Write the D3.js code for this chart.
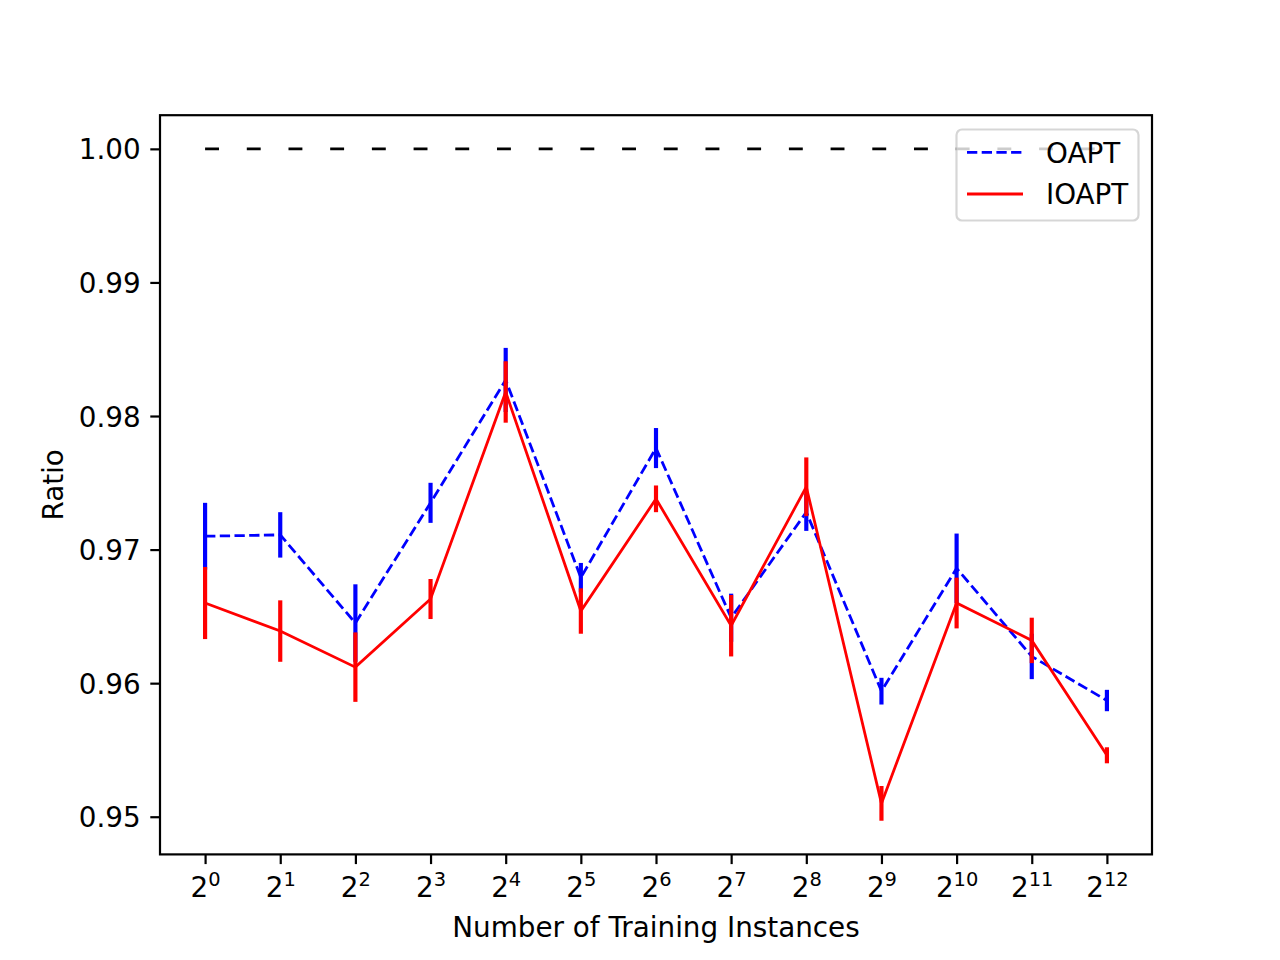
<!DOCTYPE html>
<html>
<head>
<meta charset="utf-8">
<script src="https://cdn.jsdelivr.net/npm/d3@7"></script>
<style>
  body { margin: 0; background: #fff; }
  svg { display: block; }
  text { font-family: "DejaVu Sans", sans-serif; fill: #000; }
</style>
</head>
<body>
<svg id="chart" width="1280" height="960"></svg>
<script>

// exponents of 2 on the x axis
const exponents = [0, 1, 2, 3, 4, 5, 6, 7, 8, 9, 10, 11, 12];

const oaptMean = [0.9710, 0.9711, 0.9645, 0.9735, 0.9827, 0.9679, 0.9776, 0.9649, 0.9728, 0.9594, 0.9686, 0.9620, 0.9587];
const oaptErr  = [0.0025, 0.0017, 0.0029, 0.0015, 0.0024, 0.0011, 0.0015, 0.0018, 0.0014, 0.0010, 0.0026, 0.0017, 0.0008];

const ioaptMean = [0.9660, 0.9639, 0.9612, 0.9663, 0.9818, 0.9654, 0.9738, 0.9643, 0.9747, 0.9510, 0.9660, 0.9632, 0.9546];
const ioaptErr  = [0.0027, 0.0023, 0.0026, 0.0015, 0.0023, 0.0017, 0.0010, 0.0023, 0.0022, 0.0013, 0.0019, 0.0017, 0.0006];

const baselineValue = 1.0;

const yTicks = [0.95, 0.96, 0.97, 0.98, 0.99, 1.00];

const seriesNames = ["OAPT", "IOAPT"];


const svg = d3.select("#chart");

const margin = { left: 160, right: 1152, top: 115.2, bottom: 854.4 };
const fontSize = 27.8;
const tickLen = 9.7;

const x = d3.scaleLinear().domain([-0.6, 12.6]).range([margin.left, margin.right]);
const y = d3.scaleLinear().domain([0.94718, 1.00252]).range([margin.bottom, margin.top]);

const line = d3.line()
    .x((d, i) => x(exponents[i]))
    .y(d => y(d));

// reference line at 1.0
svg.append("line")
    .attr("x1", x(exponents[0]))
    .attr("x2", x(exponents[exponents.length - 1]))
    .attr("y1", y(baselineValue))
    .attr("y2", y(baselineValue))
    .attr("stroke", "black")
    .attr("stroke-width", 2.78)
    .attr("stroke-dasharray", "13.9,27.8");

function drawSeries(means, errs, color, dash) {
    const g = svg.append("g");

    g.append("path")
        .datum(means)
        .attr("d", line)
        .attr("fill", "none")
        .attr("stroke", color)
        .attr("stroke-width", 2.78)
        .attr("stroke-dasharray", dash);

    g.selectAll("line.err")
        .data(means)
        .enter()
        .append("line")
        .attr("class", "err")
        .attr("x1", (d, i) => x(exponents[i]))
        .attr("x2", (d, i) => x(exponents[i]))
        .attr("y1", (d, i) => y(d - errs[i]))
        .attr("y2", (d, i) => y(d + errs[i]))
        .attr("stroke", color)
        .attr("stroke-width", 4.17);
}

drawSeries(oaptMean, oaptErr, "#0000ff", "10.3,4.4");
drawSeries(ioaptMean, ioaptErr, "#ff0000", null);

// frame
svg.append("rect")
    .attr("x", margin.left)
    .attr("y", margin.top)
    .attr("width", margin.right - margin.left)
    .attr("height", margin.bottom - margin.top)
    .attr("fill", "none")
    .attr("stroke", "black")
    .attr("stroke-width", 2.2);

// x axis
const xAxis = svg.append("g")
    .attr("transform", `translate(0,${margin.bottom})`)
    .call(d3.axisBottom(x).tickValues(exponents).tickSize(tickLen).tickSizeOuter(0));

xAxis.select(".domain").remove();
xAxis.selectAll(".tick line").attr("stroke-width", 2.2);
xAxis.selectAll(".tick text")
    .attr("y", 42.6)
    .attr("dy", null)
    .attr("font-size", fontSize)
    .attr("font-family", "DejaVu Sans")
    .text(null)
    .each(function (d) {
        const t = d3.select(this);
        t.append("tspan").text("2");
        t.append("tspan")
            .attr("dy", -11)
            .attr("font-size", fontSize * 0.7)
            .text(d);
    });

// y axis
const yAxis = svg.append("g")
    .attr("transform", `translate(${margin.left},0)`)
    .call(d3.axisLeft(y).tickValues(yTicks).tickFormat(d3.format(".2f")).tickSize(tickLen).tickPadding(9.7).tickSizeOuter(0));

yAxis.select(".domain").remove();
yAxis.selectAll(".tick line").attr("stroke-width", 2.2);
yAxis.selectAll(".tick text")
    .attr("font-size", fontSize)
    .attr("font-family", "DejaVu Sans")
    .attr("dy", "0.36em");

// axis labels
svg.append("text")
    .attr("x", (margin.left + margin.right) / 2)
    .attr("y", 937)
    .attr("text-anchor", "middle")
    .attr("font-size", fontSize)
    .text("Number of Training Instances");

svg.append("text")
    .attr("transform", `translate(63,${(margin.top + margin.bottom) / 2}) rotate(-90)`)
    .attr("text-anchor", "middle")
    .attr("font-size", fontSize)
    .text("Ratio");

// legend
const legend = svg.append("g");

legend.append("rect")
    .attr("x", 956.5)
    .attr("y", 129.5)
    .attr("width", 182)
    .attr("height", 91)
    .attr("rx", 5.5)
    .attr("fill", "white")
    .attr("fill-opacity", 0.8)
    .attr("stroke", "#cccccc")
    .attr("stroke-opacity", 0.8)
    .attr("stroke-width", 2.2);

const legendRows = [
    { name: seriesNames[0], color: "#0000ff", dash: "10.3,4.4", y: 152.3 },
    { name: seriesNames[1], color: "#ff0000", dash: null, y: 194 }
];

legendRows.forEach(r => {
    legend.append("line")
        .attr("x1", 967)
        .attr("x2", 1023)
        .attr("y1", r.y)
        .attr("y2", r.y)
        .attr("stroke", r.color)
        .attr("stroke-width", 2.78)
        .attr("stroke-dasharray", r.dash);

    legend.append("text")
        .attr("x", 1046)
        .attr("y", r.y + 10.2)
        .attr("font-size", fontSize)
        .text(r.name);
});

</script>
</body>
</html>
